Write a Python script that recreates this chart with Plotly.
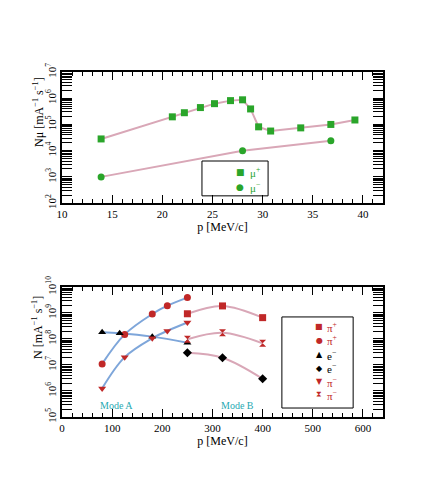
import plotly.graph_objects as go

# top panel: muon rates vs momentum
p_mup = [13.9, 21.0, 22.2, 23.8, 25.2, 26.8, 28.0, 28.8, 29.6, 30.8, 33.8, 36.8, 39.2]
n_mup = [2.8e4, 1.95e5, 2.8e5, 4.4e5, 6.2e5, 8.1e5, 8.7e5, 3.9e5, 8.1e4, 5.6e4, 7.4e4, 1.0e5, 1.48e5]
p_mum = [13.9, 28.0, 36.8]
n_mum = [1.0e3, 1.0e4, 2.4e4]

# bottom panel: Mode A (blue curves) and Mode B (pink curves)
p_pip_a = [80, 125, 180, 210, 250]
n_pip_a = [1.1e7, 1.5e8, 9.1e8, 1.9e9, 3.9e9]
p_em_a = [80, 115, 180, 250]
n_em_a = [1.8e8, 1.66e8, 1.23e8, 7.2e7]
p_pim_a = [80, 125, 180, 210, 250]
n_pim_a = [1.26e6, 2.0e7, 1.07e8, 2.04e8, 4.3e8]
p_b = [250, 320, 400]
n_pip_b = [9.3e8, 1.86e9, 6.6e8]
n_em_b = [2.95e7, 1.9e7, 2.95e6]
n_pim_b = [9.8e7, 1.74e8, 6.8e7]

pink = '#d9a7b7'
blue = '#7ea6da'
green = '#2aa52a'
red = '#c02828'
FONT = 'Liberation Serif'
SYM = 'DejaVu Sans'

fig = go.Figure()


def curve(x, y, color, xa, ya, shape='linear'):
    fig.add_trace(go.Scatter(x=x, y=y, mode='lines', line=dict(color=color, width=2, shape=shape),
                             xaxis=xa, yaxis=ya, showlegend=False, hoverinfo='skip'))


def pts(x, y, symbol, color, xa, ya):
    fig.add_trace(go.Scatter(x=x, y=y, mode='markers', showlegend=False,
                             marker=dict(symbol=symbol, size=7, color=color),
                             xaxis=xa, yaxis=ya))


curve(p_mup, n_mup, pink, 'x', 'y')
curve(p_mum, n_mum, pink, 'x', 'y')
pts(p_mup, n_mup, 'square', green, 'x', 'y')
pts(p_mum, n_mum, 'circle', green, 'x', 'y')

curve(p_pip_a, n_pip_a, blue, 'x2', 'y2', 'spline')
curve(p_em_a, n_em_a, blue, 'x2', 'y2', 'spline')
curve(p_pim_a, n_pim_a, blue, 'x2', 'y2', 'spline')
curve(p_b, n_pip_b, pink, 'x2', 'y2', 'spline')
curve(p_b, n_em_b, pink, 'x2', 'y2', 'spline')
curve(p_b, n_pim_b, pink, 'x2', 'y2', 'spline')

pts(p_b, n_pip_b, 'square', red, 'x2', 'y2')
pts(p_pip_a, n_pip_a, 'circle', red, 'x2', 'y2')
pts(p_em_a, n_em_a, 'triangle-up', 'black', 'x2', 'y2')
pts(p_b, n_em_b, 'diamond', 'black', 'x2', 'y2')
pts(p_pim_a, n_pim_a, 'triangle-down', red, 'x2', 'y2')
pts(p_b, n_pim_b, 'hourglass', red, 'x2', 'y2')


def log_ticks(lo, hi):
    # every 1..9 x 10^k gets a tick, only the decades get a label
    vals, txt = [], []
    for k in range(lo, hi + 1):
        for m in range(1, 10):
            if k == hi and m > 1:
                break
            vals.append(m * 10 ** k)
            txt.append('10<sup>%d</sup>' % k if m == 1 else '')
    return vals, txt


top_vals, top_txt = log_ticks(2, 7)
bot_vals, bot_txt = log_ticks(5, 10)

frame = dict(showline=True, linecolor='black', linewidth=1.5, mirror='allticks',
             ticks='inside', tickcolor='black', showgrid=False, zeroline=False,
             tickfont=dict(family=FONT, size=11, color='black'))
ylog = dict(frame, type='log', tickmode='array', ticklen=10, tickwidth=1.2, tickangle=-90)

# legend rows drawn as text: (symbol, label, colour)
leg_top = [('■', 'μ<sup>+</sup>', green), ('●', 'μ<sup>−</sup>', green)]
leg_top_y = [0.711, 0.668]
leg_bot = [('■', 'π<sup>+</sup>', red), ('●', 'π<sup>+</sup>', red),
           ('▲', 'e<sup>−</sup>', 'black'), ('◆', 'e<sup>−</sup>', 'black'),
           ('▼', 'π<sup>−</sup>', red), ('⧗', 'π<sup>−</sup>', red)]
leg_bot_y = [0.262, 0.223, 0.180, 0.142, 0.102, 0.064]

ann = [
    dict(text='Mode A', x=109, y=5.43, xref='x2', yref='y2', showarrow=False,
         font=dict(family=FONT, size=10, color='#1fa9b2')),
    dict(text='Mode B', x=350, y=5.43, xref='x2', yref='y2', showarrow=False,
         font=dict(family=FONT, size=10, color='#1fa9b2')),
    # y titles sit towards the top of each panel, as in the original
    dict(text='Nμ [mA<sup>−1</sup> s<sup>−1</sup>]', x=-0.075, y=0.884, xref='paper', yref='paper',
         textangle=-90, showarrow=False, xanchor='center', yanchor='middle',
         font=dict(family=FONT, size=12, color='black')),
    dict(text='N [mA<sup>−1</sup> s<sup>−1</sup>]', x=-0.075, y=0.261, xref='paper', yref='paper',
         textangle=-90, showarrow=False, xanchor='center', yanchor='middle',
         font=dict(family=FONT, size=12, color='black')),
]
for (s, lab, c), yy in zip(leg_top, leg_top_y):
    ann.append(dict(text=s, x=0.555, y=yy, xref='paper', yref='paper', showarrow=False,
                    xanchor='center', yanchor='middle', font=dict(family=SYM, size=9, color=c)))
    ann.append(dict(text=lab, x=0.578, y=yy, xref='paper', yref='paper', showarrow=False,
                    xanchor='left', yanchor='middle', font=dict(family=FONT, size=11, color=c)))
for (s, lab, c), yy in zip(leg_bot, leg_bot_y):
    ann.append(dict(text=s, x=0.801, y=yy, xref='paper', yref='paper', showarrow=False,
                    xanchor='center', yanchor='middle', font=dict(family=SYM, size=8, color=c)))
    ann.append(dict(text=lab, x=0.818, y=yy, xref='paper', yref='paper', showarrow=False,
                    xanchor='left', yanchor='middle', font=dict(family=FONT, size=11, color=c)))

# page body adds an 8px margin, so the figure is a little smaller than the window
fig.update_layout(
    width=421, height=461,
    margin=dict(l=54, r=46, t=64, b=52),
    plot_bgcolor='white', paper_bgcolor='white',
    font=dict(family=FONT, size=11, color='black'),
    xaxis=dict(frame, domain=[0, 1], range=[10, 42], dtick=5, ticklen=8,
               minor=dict(ticks='inside', ticklen=4, dtick=1, tickcolor='black'),
               title=dict(text='p [MeV/c]', standoff=4, font=dict(size=12)), anchor='y'),
    yaxis=dict(ylog, domain=[0.62, 1], range=[2, 7], anchor='x',
               tickvals=top_vals, ticktext=top_txt),
    xaxis2=dict(frame, domain=[0, 1], range=[0, 640], dtick=100, ticklen=8,
                minor=dict(ticks='inside', ticklen=4, dtick=20, tickcolor='black'),
                title=dict(text='p [MeV/c]', standoff=4, font=dict(size=12)), anchor='y2'),
    yaxis2=dict(ylog, domain=[0, 0.377], range=[5, 10], anchor='x2',
                tickvals=bot_vals, ticktext=bot_txt),
    showlegend=False,
    shapes=[
        dict(type='rect', xref='paper', yref='paper', x0=0.436, x1=0.642, y0=0.641, y1=0.742,
             line=dict(color='black', width=1)),
        dict(type='rect', xref='paper', yref='paper', x0=0.685, x1=0.907, y0=0.026, y1=0.29,
             line=dict(color='black', width=1)),
    ],
    annotations=ann,
)

fig.write_html("out.html")
